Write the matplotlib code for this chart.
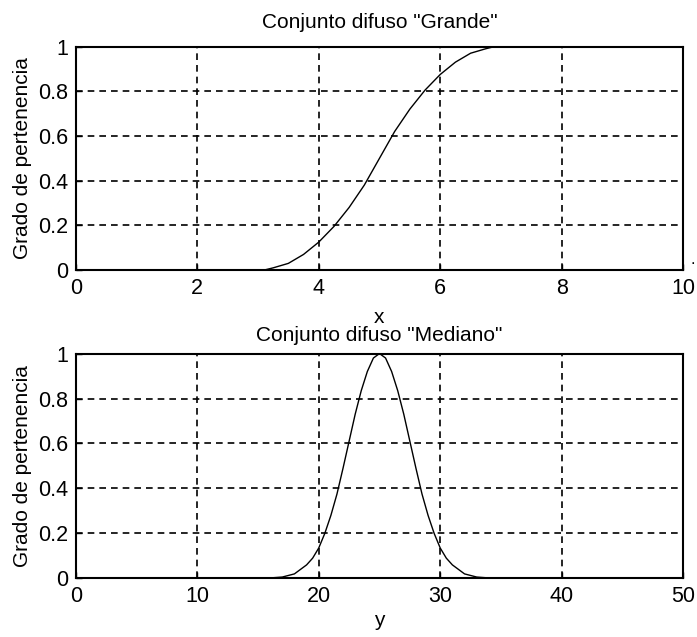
import matplotlib
matplotlib.use("Agg")
import matplotlib.pyplot as plt

plt.rcParams['font.family'] = ['Liberation Sans', 'DejaVu Sans']

# conjunto "Grande"
x_vals = [0, 3.1, 3.25, 3.5, 3.75, 4.0, 4.25, 4.5, 4.75, 5.0, 5.25, 5.5, 5.75,
          6.0, 6.25, 6.5, 6.75, 6.9, 10]
grande = [0, 0, 0.01, 0.03, 0.07, 0.125, 0.195, 0.28, 0.38, 0.5, 0.62, 0.72,
          0.805, 0.875, 0.93, 0.97, 0.99, 1.0, 1.0]

# conjunto "Mediano"
y_vals = [0, 15, 16, 17, 18, 19, 19.5, 20, 20.5, 21, 21.5, 22, 22.5, 23, 23.5,
          24, 24.5, 25, 25.5, 26, 26.5, 27, 27.5, 28, 28.5, 29, 29.5, 30, 30.5,
          31, 32, 33, 34, 35, 50]
mediano = [0, 0, 0.002, 0.006, 0.02, 0.06, 0.09, 0.135, 0.2, 0.28, 0.375,
           0.49, 0.61, 0.73, 0.835, 0.92, 0.98, 1.0, 0.98, 0.92, 0.835, 0.73,
           0.61, 0.49, 0.375, 0.28, 0.2, 0.135, 0.09, 0.06, 0.02, 0.006,
           0.002, 0, 0]

yticks = [0, 0.2, 0.4, 0.6, 0.8, 1]
ytick_labels = ['0', '0.2', '0.4', '0.6', '0.8', '1']

fig = plt.figure(figsize=(6.97, 6.37), dpi=100)
ax1 = fig.add_axes([0.1086, 0.576, 0.8717, 0.351])
ax2 = fig.add_axes([0.1086, 0.092, 0.8717, 0.353])

panels = [
    (ax1, x_vals, grande, 'Conjunto difuso "Grande"', 'x', [0, 10],
     [0, 2, 4, 6, 8, 10], 13, 7),
    (ax2, y_vals, mediano, 'Conjunto difuso "Mediano"', 'y', [0, 50],
     [0, 10, 20, 30, 40, 50], 9, 3),
]

for ax, xs, ys, title, xlabel, xlim, xticks, tpad, lpad in panels:
    ax.plot(xs, ys, color='black', linewidth=1.0)
    ax.set_xlim(xlim)
    ax.set_ylim(0, 1)
    ax.set_xticks(xticks)
    ax.set_xticklabels([str(t) for t in xticks])
    ax.set_yticks(yticks)
    ax.set_yticklabels(ytick_labels)
    ax.grid(True, color='black', linestyle=(0, (4, 3)), linewidth=1.2)
    ax.tick_params(direction='in', length=4, width=1, labelsize=15.5, pad=5.5)
    for s in ax.spines.values():
        s.set_linewidth(1.5)
    ax.set_title(title, fontsize=15, pad=tpad)
    ax.set_xlabel(xlabel, fontsize=15, labelpad=lpad)
    ax.set_ylabel('Grado de pertenencia', fontsize=15, labelpad=4)

fig.text(0.99, 0.585, '.', fontsize=12)

fig.savefig('out.png', dpi=100)
